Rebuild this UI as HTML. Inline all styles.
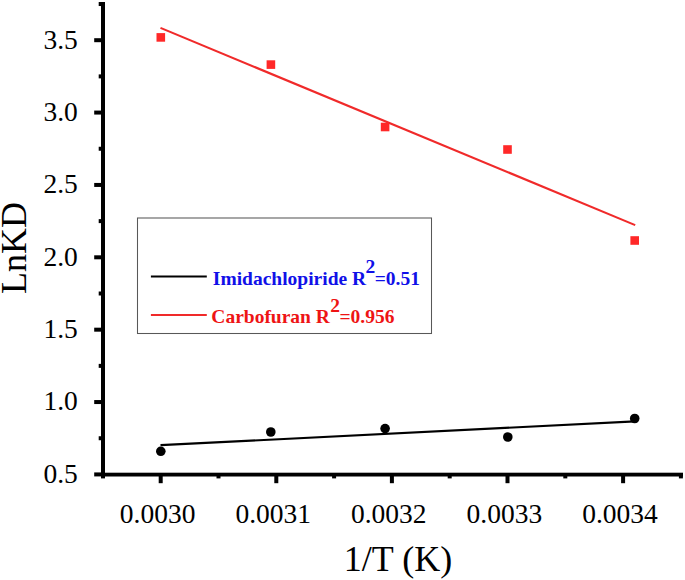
<!DOCTYPE html>
<html><head><meta charset="utf-8"><title>LnKD vs 1/T</title><style>
html,body{margin:0;padding:0;background:#fff;overflow:hidden;}
svg{display:block;}
text{font-family:"Liberation Serif",serif;}
</style></head><body>
<svg width="685" height="580" viewBox="0 0 685 580">
<defs>

</defs>
<rect width="685" height="580" fill="#fff"/>
<rect x="101" y="2" width="4" height="476.4"/>
<rect x="101" y="472.7" width="582" height="3.8"/>
<rect x="94.2" y="38.20" width="8" height="4"/>
<rect x="98.7" y="2.02" width="4" height="4"/>
<rect x="94.2" y="110.57" width="8" height="4"/>
<rect x="98.7" y="74.39" width="4" height="4"/>
<rect x="94.2" y="182.94" width="8" height="4"/>
<rect x="98.7" y="146.75" width="4" height="4"/>
<rect x="94.2" y="255.31" width="8" height="4"/>
<rect x="98.7" y="219.12" width="4" height="4"/>
<rect x="94.2" y="327.68" width="8" height="4"/>
<rect x="98.7" y="291.50" width="4" height="4"/>
<rect x="94.2" y="400.05" width="8" height="4"/>
<rect x="98.7" y="363.87" width="4" height="4"/>
<rect x="94.2" y="472.42" width="8" height="4"/>
<rect x="98.7" y="436.24" width="4" height="4"/>
<rect x="158.70" y="474" width="4" height="9.2"/>
<rect x="216.50" y="474" width="4" height="4.4"/>
<rect x="274.30" y="474" width="4" height="9.2"/>
<rect x="332.10" y="474" width="4" height="4.4"/>
<rect x="389.90" y="474" width="4" height="9.2"/>
<rect x="447.70" y="474" width="4" height="4.4"/>
<rect x="505.50" y="474" width="4" height="9.2"/>
<rect x="563.30" y="474" width="4" height="4.4"/>
<rect x="621.10" y="474" width="4" height="9.2"/>
<rect x="678.90" y="474" width="4" height="4.4"/>
<text x="77.80" y="48.50" font-size="27.5" text-anchor="end">3.5</text>
<text x="77.80" y="120.87" font-size="27.5" text-anchor="end">3.0</text>
<text x="77.80" y="193.24" font-size="27.5" text-anchor="end">2.5</text>
<text x="77.80" y="265.61" font-size="27.5" text-anchor="end">2.0</text>
<text x="77.80" y="337.98" font-size="27.5" text-anchor="end">1.5</text>
<text x="77.80" y="410.35" font-size="27.5" text-anchor="end">1.0</text>
<text x="77.80" y="482.72" font-size="27.5" text-anchor="end">0.5</text>
<text x="157.60" y="522.80" font-size="27.5" text-anchor="middle">0.0030</text>
<text x="273.20" y="522.80" font-size="27.5" text-anchor="middle">0.0031</text>
<text x="388.80" y="522.80" font-size="27.5" text-anchor="middle">0.0032</text>
<text x="504.40" y="522.80" font-size="27.5" text-anchor="middle">0.0033</text>
<text x="620.00" y="522.80" font-size="27.5" text-anchor="middle">0.0034</text>
<text x="398.00" y="570.50" font-size="36" text-anchor="middle">1/T (K)</text>
<text transform="translate(26.10,248.05) rotate(-90)" font-size="36" text-anchor="middle">LnKD</text>
<line x1="160.5" y1="27.9" x2="635.2" y2="225.1" stroke="#F02A2A" stroke-width="2.1"/>
<line x1="160.5" y1="445.1" x2="635" y2="421.4" stroke="#000" stroke-width="2.1"/>
<rect x="156.50" y="33.10" width="8.6" height="8.6" fill="#FF2828"/>
<rect x="266.60" y="60.30" width="8.6" height="8.6" fill="#FF2828"/>
<rect x="380.80" y="122.70" width="8.6" height="8.6" fill="#FF2828"/>
<rect x="503.20" y="145.20" width="8.6" height="8.6" fill="#FF2828"/>
<rect x="630.40" y="236.20" width="8.6" height="8.6" fill="#FF2828"/>
<circle cx="160.8" cy="451.3" r="4.8"/>
<circle cx="270.8" cy="432" r="4.8"/>
<circle cx="385.1" cy="428.6" r="4.8"/>
<circle cx="507.8" cy="437" r="4.8"/>
<circle cx="634.7" cy="418.5" r="4.8"/>
<rect x="137.5" y="218" width="294" height="115.5" fill="none" stroke="#585858" stroke-width="1.05"/>
<line x1="150.9" y1="276.5" x2="206.8" y2="276.5" stroke="#000" stroke-width="2"/>
<line x1="150.9" y1="315.1" x2="206.8" y2="315.1" stroke="#F02A2A" stroke-width="2"/>
<text x="212.80" y="284.80" font-size="19.5" font-weight="bold" fill="#1010E8">Imidachlopiride R</text>
<text x="365.50" y="273.00" font-size="19.5" font-weight="bold" fill="#1010E8">2</text>
<text x="374.70" y="284.80" font-size="19.5" font-weight="bold" fill="#1010E8">=0.51</text>
<text x="211.30" y="323.40" font-size="19.5" font-weight="bold" fill="#EE1414">Carbofuran R</text>
<text x="330.30" y="311.60" font-size="19.5" font-weight="bold" fill="#EE1414">2</text>
<text x="339.50" y="323.40" font-size="19.5" font-weight="bold" fill="#EE1414">=0.956</text>
</svg>
</body></html>
